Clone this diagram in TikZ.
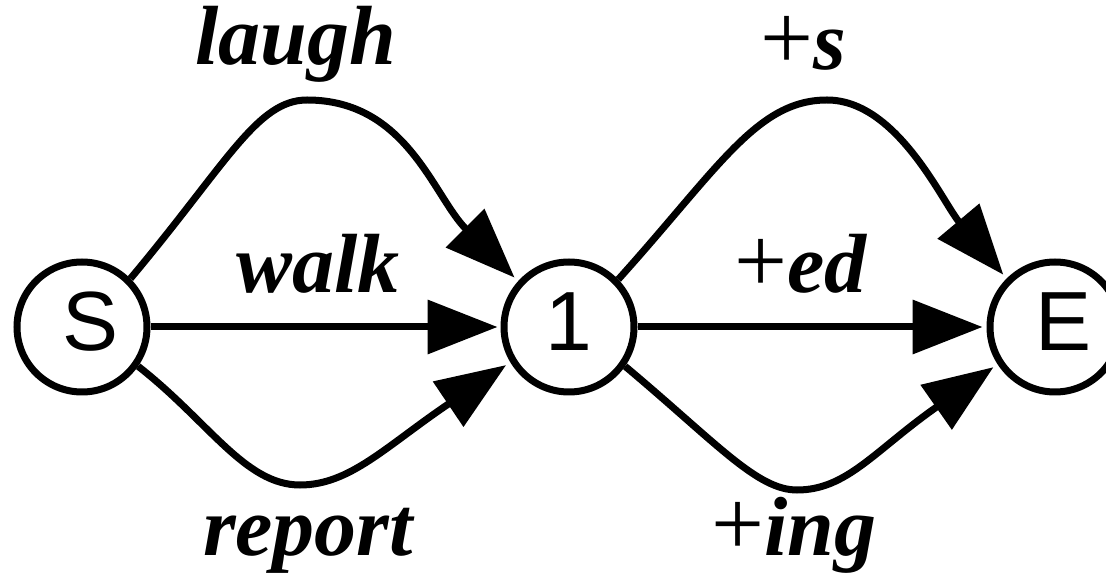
\documentclass[tikz,border=0pt]{standalone}
\usepackage{fontspec}
\newfontfamily\serifb{Liberation Serif}
\newfontfamily\sansf{Liberation Sans}
\usetikzlibrary{arrows.meta}
\newcommand{\plusg}{{\fontsize{94}{94}\selectfont +}}
\begin{document}
\begin{tikzpicture}[x=1pt,y=1pt,
  state/.style={circle,draw,line width=7pt,minimum size=130pt,inner sep=0pt},
  statetxt/.style={font=\sansf\fontsize{84}{84}\selectfont,inner sep=0pt},
  edge/.style={line width=7pt,-{Triangle[length=70pt,width=53pt]},shorten >=5pt},
  lbl/.style={anchor=base,inner sep=0pt,font=\serifb\fontsize{84}{84}\selectfont}
]
\useasboundingbox (0,0) rectangle (1106,584);
\node[state,label={[statetxt,xshift=9pt,yshift=5pt]center:S}] (S) at (82,257) {};
\node[state,label={[statetxt,yshift=5pt]center:1}] (1) at (569,257) {};
\node[state,label={[statetxt,xshift=9pt,yshift=5pt]center:E}] (E) at (1055,257) {};

\coordinate (lp) at (307,484);
\coordinate (rp) at (300,99);
\coordinate (sp) at (827,484);
\coordinate (ip) at (797,94);

\draw[edge] (S.45) to[out=50,in=180,out distance=150pt,in distance=50pt] (lp)
  to[out=0,in=135,out distance=100pt,in distance=120pt] (1.138);
\draw[edge] (S.-35) to[out=-38,in=180,out distance=90pt,in distance=55pt] (rp)
  to[out=0,in=214,out distance=50pt,in distance=150pt] (1.211);
\draw[edge,shorten >=3pt] (S) -- (1);

\draw[edge] (1.44) to[out=48,in=180,out distance=150pt,in distance=70pt] (sp)
  to[out=0,in=130,out distance=70pt,in distance=100pt] (E.135);
\draw[edge] (1.-35) to[out=-40,in=180,out distance=120pt,in distance=40pt] (ip)
  to[out=0,in=215,out distance=50pt,in distance=150pt] (E.213);
\draw[edge,shorten >=4pt] (1) -- (E);

\node[lbl] (tlaugh) at (296,519) {\bfseries\itshape laugh};
\node[lbl] (twalk) at (318,291) {\bfseries\itshape walk};
\node[lbl] (treport) at (308,29) {\bfseries\itshape report};
\node[lbl] (ts) at (803,514) {\plusg\textbf{\textit{s}}};
\node[lbl] (ted) at (801,291) {\plusg\textbf{\textit{ed}}};
\node[lbl] (ting) at (794,29) {\plusg\textbf{\textit{ing}}};
\end{tikzpicture}
\end{document}
